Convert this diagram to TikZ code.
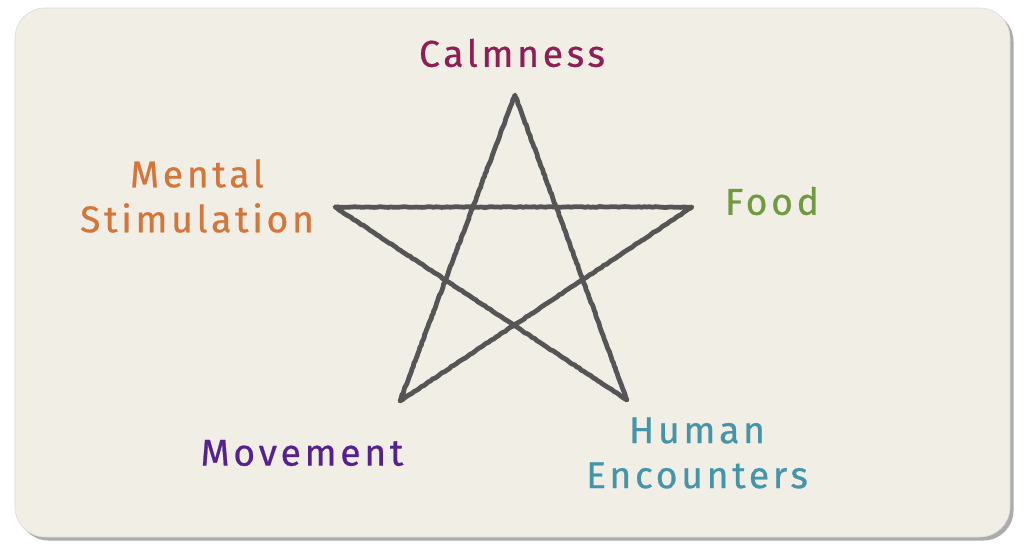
\documentclass[tikz,border=0pt]{standalone}
\usepackage{fontspec}
\setmainfont{Fira Sans}
\newfontfamily\chalkfont[LetterSpace=10, FakeBold=0.6]{Fira Sans}
\usepackage{tikz}
\usetikzlibrary{shadows,decorations.pathmorphing}
\definecolor{paper}{HTML}{F1EEE6}
\definecolor{calmcol}{HTML}{8E1E55}
\definecolor{mentalcol}{HTML}{D4763A}
\definecolor{foodcol}{HTML}{709A40}
\definecolor{humancol}{HTML}{4595AA}
\definecolor{movecol}{HTML}{552090}
\definecolor{chalk}{HTML}{555555}
\tikzset{
  label/.style={font=\chalkfont\fontsize{26.5}{32}\selectfont, align=center},
  chalkline/.style={chalk, line width=3.4pt, line join=round, line cap=round,
    decorate, decoration={random steps, segment length=2pt, amplitude=0.3pt}}
}

\begin{document}
\begin{tikzpicture}[x=0.025cm, y=-0.025cm]
\useasboundingbox (0, 0) rectangle (1028, 553);
\draw[draw=black!15, fill=paper, rounded corners=0.75cm,
  drop shadow={shadow xshift=2.5pt, shadow yshift=-2.5pt, fill=black!65}]
  (15, 8) rectangle (1010, 537);
\coordinate (T) at (515, 95);
\coordinate (R) at (692, 207);
\coordinate (BR) at (627, 400);
\coordinate (BL) at (400, 401);
\coordinate (L) at (335, 207);
	\draw[chalkline] (T) -- (BL) -- (R) -- (L) -- (BR) -- cycle;
	\node[label, text=calmcol] (calm) at (512, 53) {Calmness};
	\node[label, text=mentalcol] (mental) at (197, 196) {Mental\\Stimulation};
	\node[label, text=foodcol] (food) at (772, 201) {Food};
	\node[label, text=humancol] (human) at (697, 453) {Human\\Encounters};
	\node[label, text=movecol] (move) at (302, 453) {Movement};
\end{tikzpicture}
\end{document}
